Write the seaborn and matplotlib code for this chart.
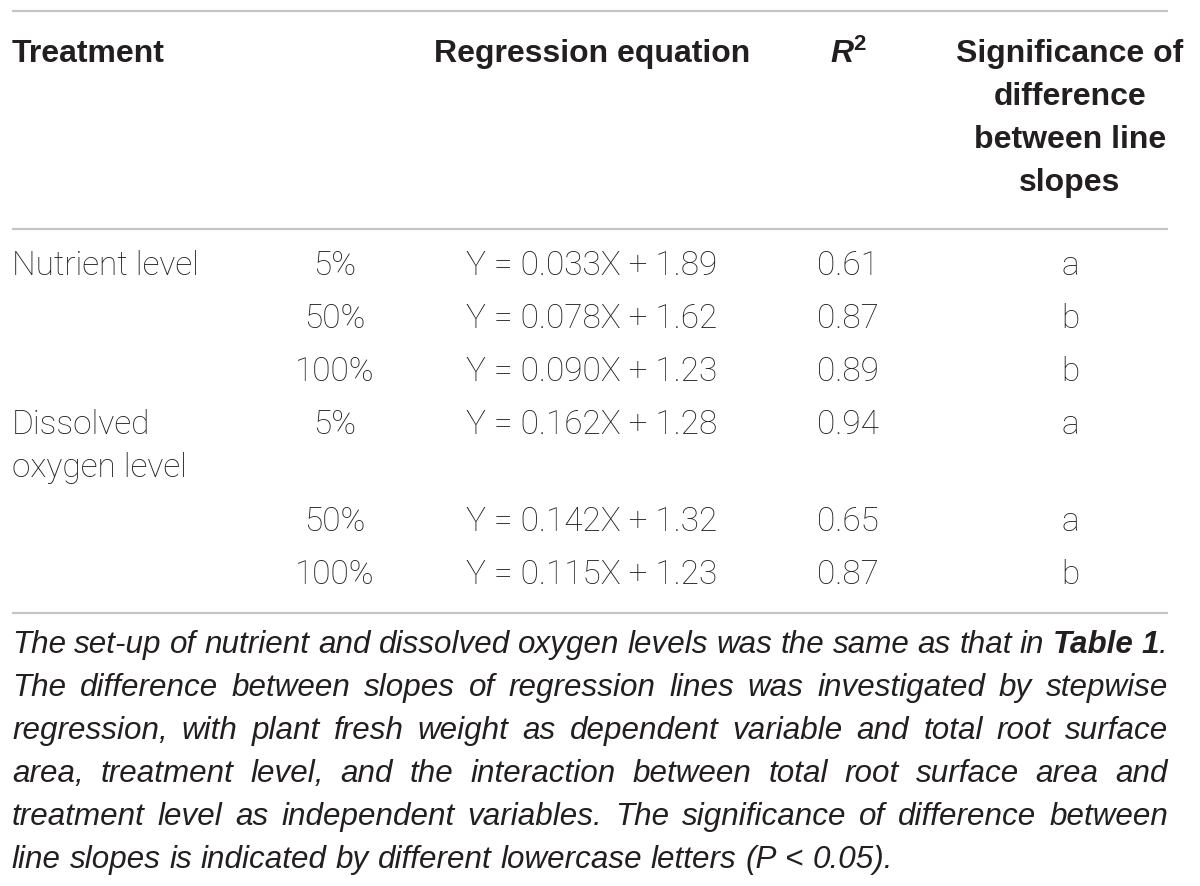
import matplotlib
matplotlib.use("Agg")
import matplotlib.pyplot as plt
import seaborn as sns

# table content
treatments = ["Nutrient level", "", "", "Dissolved\noxygen level", "", ""]
levels = ["5%", "50%", "100%", "5%", "50%", "100%"]
slopes = [0.033, 0.078, 0.090, 0.162, 0.142, 0.115]
intercepts = [1.89, 1.62, 1.23, 1.28, 1.32, 1.23]
r2 = [0.61, 0.87, 0.89, 0.94, 0.65, 0.87]
letters = ["a", "b", "b", "a", "a", "b"]

headers = ["Treatment", "", "Regression equation", "$\\bfit{R}^\\mathbf{2}$",
           "Significance of\ndifference\nbetween line\nslopes"]

caption_lines = [
    "The set-up of nutrient and dissolved oxygen levels was the same as that in **Table 1**.",
    "The difference between slopes of regression lines was investigated by stepwise",
    "regression, with plant fresh weight as dependent variable and total root surface",
    "area, treatment level, and the interaction between total root surface area and",
    "treatment level as independent variables. The significance of difference between",
    "line slopes is indicated by different lowercase letters (P < 0.05).",
]

sns.set_theme(style="white")
plt.rcParams["font.family"] = ["Roboto", "Liberation Sans", "DejaVu Sans"]
plt.rcParams["mathtext.fontset"] = "custom"
plt.rcParams["mathtext.bfit"] = "Liberation Sans:bold:italic"
plt.rcParams["mathtext.bf"] = "Liberation Sans:bold"

ink = "#231f20"
rule = "#c4c4c4"
W, H = 1200, 887
left, right = 12, 1168
head_size = 23
body_size = 24
line_gap = 43
row_gap = 53

fig = plt.figure(figsize=(W / 100, H / 100), dpi=100)
ax = fig.add_axes([0, 0, 1, 1])
ax.set_xlim(0, W)
ax.set_ylim(H, 0)
ax.axis("off")

# column anchors (x, ha)
cols = [(left, "left"), (335, "center"), (592, "center"), (848, "center"), (1070, "center")]

# rules
for yy in [12, 230, 614]:
    ax.plot([left, right], [yy, yy], color=rule, lw=1.6, solid_capstyle="butt")

# header
for (x, ha), h in zip(cols, headers):
    for k, part in enumerate(h.split("\n")):
        ax.text(x, 54 + k * line_gap, part, ha=ha, va="center", fontsize=head_size,
                fontweight="bold", color=ink, family=["Liberation Sans"])

# body rows
y = 266
for i in range(len(levels)):
    eq = f"Y = {slopes[i]:.3f}X + {intercepts[i]:.2f}"
    cells = [treatments[i], levels[i], eq, f"{r2[i]:.2f}", letters[i]]
    nlines = 1
    for (x, ha), c in zip(cols, cells):
        parts = c.split("\n") if c else []
        nlines = max(nlines, len(parts))
        for k, part in enumerate(parts):
            ax.text(x, y + k * line_gap, part, ha=ha, va="center", fontsize=body_size,
                    fontweight="light", color=ink)
    y += row_gap + (nlines - 1) * line_gap + (1 if nlines > 1 else 0)

# caption, justified word by word
renderer = fig.canvas.get_renderer()
cap_family = ["Liberation Sans"]


def tokens(line):
    out = []
    for w in line.split(" "):
        bold = False
        if "**" in w:
            bold = True
            w = w.replace("**", "")
        out.append((w, bold))
    return out


def word_width(w, bold, size):
    t = ax.text(0, 0, w, fontsize=size, style="italic",
                fontweight="bold" if bold else "normal", family=cap_family)
    wd = t.get_window_extent(renderer).width
    t.remove()
    return wd


base = 20
space_base = word_width("x x", False, base) - word_width("xx", False, base)
scale = 10.0
for line in caption_lines[:-1]:
    toks = tokens(line)
    nat = sum(word_width(w, b, base) for w, b in toks) + space_base * (len(toks) - 1)
    scale = min(scale, (right - left) / nat)
cap_size = base * scale
space = space_base * scale

for j, line in enumerate(caption_lines):
    toks = tokens(line)
    widths = [word_width(w, b, cap_size) for w, b in toks]
    if j < len(caption_lines) - 1 and len(toks) > 1:
        gap = (right - left - sum(widths)) / (len(toks) - 1)
    else:
        gap = space
    x = left
    yy = 645 + j * line_gap
    for (w, b), wd in zip(toks, widths):
        if w.endswith(".") and b:
            ax.text(x, yy, w[:-1], fontsize=cap_size, style="italic", fontweight="bold",
                    family=cap_family, color=ink, va="center", ha="left")
            wb = word_width(w[:-1], True, cap_size)
            ax.text(x + wb, yy, ".", fontsize=cap_size, style="italic",
                    family=cap_family, color=ink, va="center", ha="left")
        else:
            ax.text(x, yy, w, fontsize=cap_size, style="italic",
                    fontweight="bold" if b else "normal",
                    family=cap_family, color=ink, va="center", ha="left")
        x += wd + gap

fig.savefig("out.png", dpi=100, facecolor="white")
